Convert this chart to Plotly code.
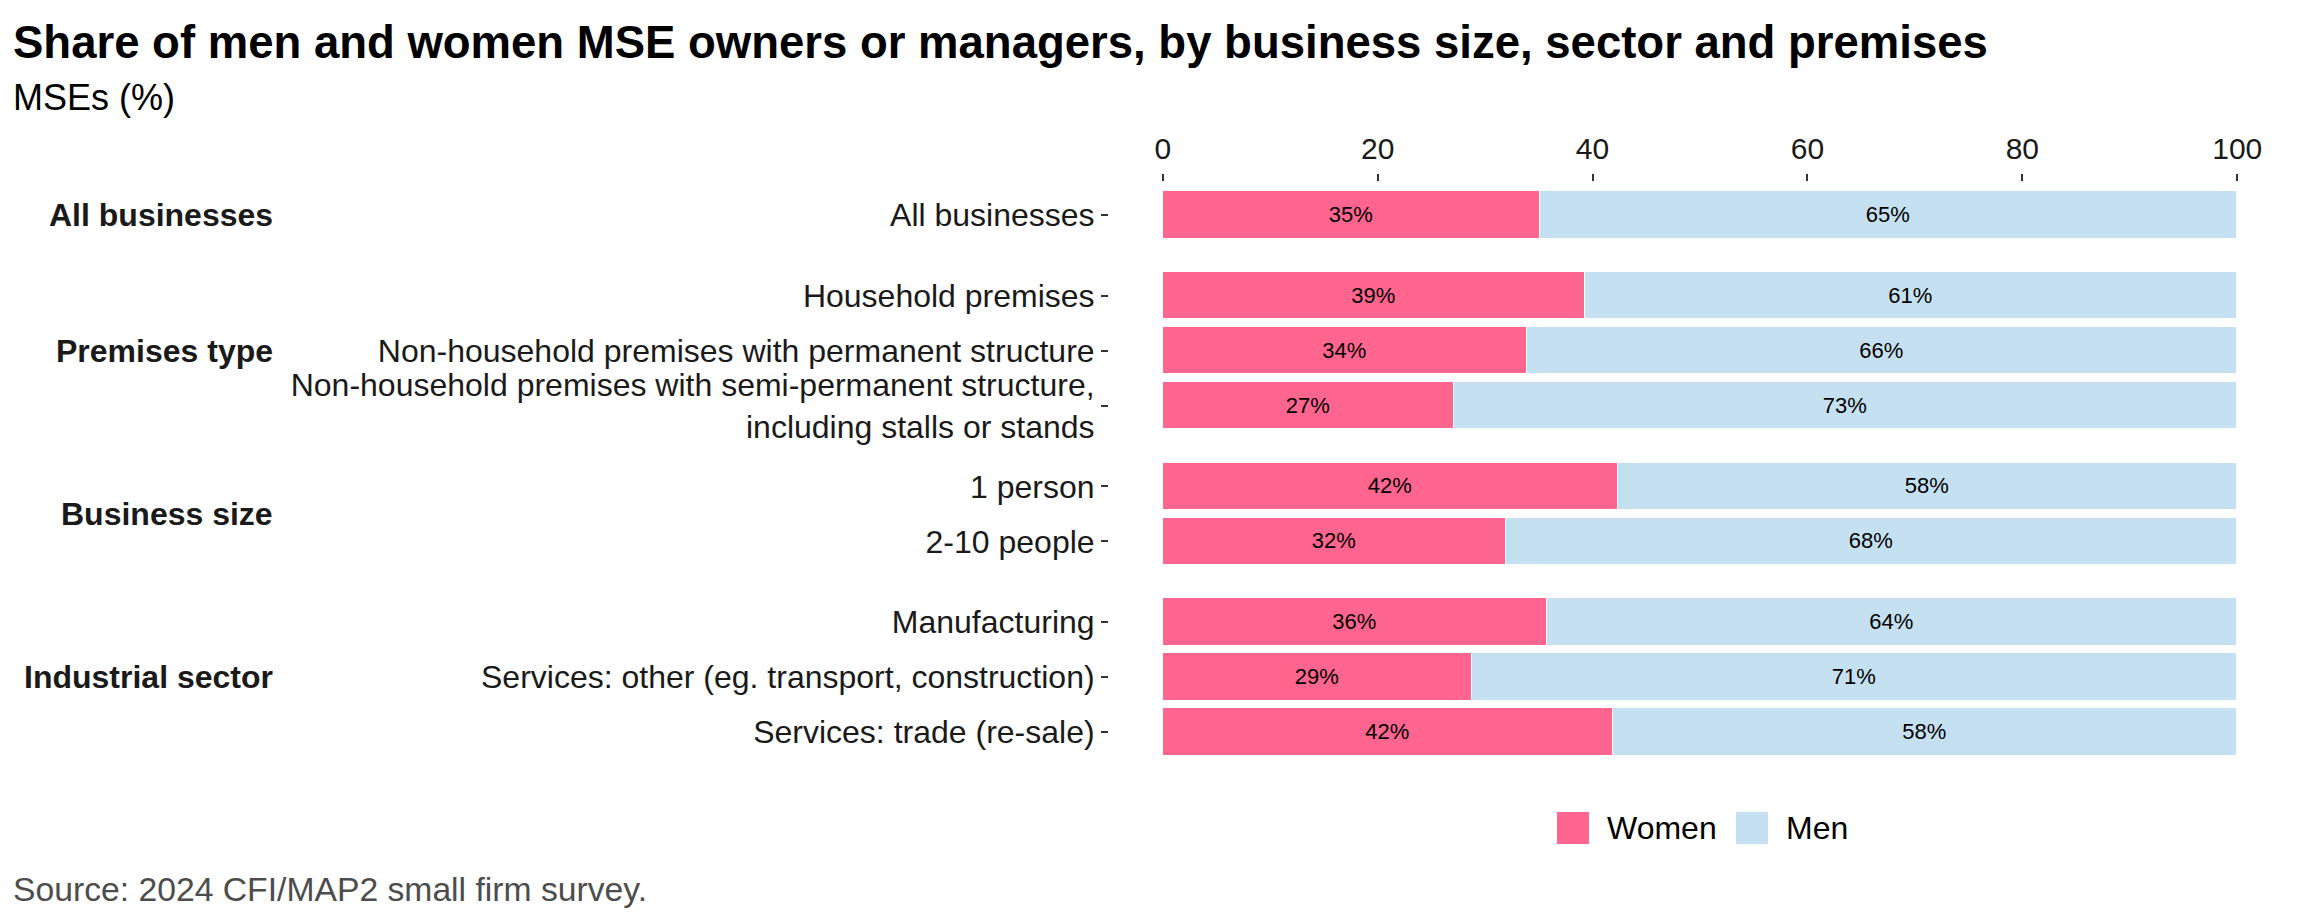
import plotly.graph_objects as go
from plotly.subplots import make_subplots

# ---------------- data ----------------
groups = ["All businesses", "Premises type", "Business size", "Industrial sector"]
categories = [
    "All businesses",
    "Household premises",
    "Non-household premises with permanent structure",
    "Non-household premises with semi-permanent structure,<br>including stalls or stands",
    "1 person",
    "2-10 people",
    "Manufacturing",
    "Services: other (eg. transport, construction)",
    "Services: trade (re-sale)",
]
category_group = [
    "All businesses",
    "Premises type", "Premises type", "Premises type",
    "Business size", "Business size",
    "Industrial sector", "Industrial sector", "Industrial sector",
]
women = [35.1, 39.3, 33.9, 27.1, 42.4, 31.9, 35.8, 28.8, 41.9]
men = [64.9, 60.7, 66.1, 72.9, 57.6, 68.1, 64.2, 71.2, 58.1]
x_ticks = [0, 20, 40, 60, 80, 100]
series_names = ["Women", "Men"]
series_colors = ["#FF658E", "#C5E0F1"]

title = "Share of men and women MSE owners or managers, by business size, sector and premises"
subtitle = "MSEs (%)"
caption = "Source: 2024 CFI/MAP2 small firm survey."

# ---------------- layout geometry ----------------
W, H = 2304, 921
OFF = 8  # page body margin offset compensation
L, T = 1109 - OFF, 182 - OFF
R = W - (2291 - OFF)
B = H - (765 - OFF)
PW, PH = W - L - R, H - T - B
GAP = 15
FONT = "Liberation Sans, Arial, Helvetica, sans-serif"


def px_x(px):
    return (px - OFF - L) / PW


def px_y(py):
    return 1 - (py - OFF - T) / PH


group_cats = [[c for c, g in zip(categories, category_group) if g == grp] for grp in groups]
units = [len(c) + 0.2 for c in group_cats]
unit_px = (PH - GAP * (len(groups) - 1)) / sum(units)

fig = make_subplots(rows=len(groups), cols=1, shared_xaxes=True, vertical_spacing=0.02)

for gi, grp in enumerate(groups):
    idx = [i for i, g in enumerate(category_group) if g == grp]
    cats = [categories[i] for i in idx]
    for name, vals, col in zip(series_names, [women, men], series_colors):
        fig.add_trace(
            go.Bar(
                y=cats,
                x=[vals[i] for i in idx],
                orientation="h",
                name=name,
                marker=dict(color=col, line=dict(color="white", width=1.5)),
                width=0.87,
                texttemplate="%{x:.0f}%",
                textposition="inside",
                insidetextanchor="middle",
                textangle=0,
                textfont=dict(size=22, color="black", family=FONT),
                showlegend=False,
                hoverinfo="x+y+name",
            ),
            row=gi + 1,
            col=1,
        )

# y axes / domains
top_frac = 1.0
for gi, cats in enumerate(group_cats):
    h_frac = units[gi] * unit_px / PH
    d_top = top_frac
    d_bot = top_frac - h_frac
    n = len(cats)
    yname = "yaxis" if gi == 0 else f"yaxis{gi + 1}"
    fig.layout[yname].update(
        domain=[max(0, d_bot), min(1, d_top)],
        type="category",
        categoryorder="array",
        categoryarray=list(reversed(cats)),
        range=[-0.6, n - 0.4],
        showgrid=False,
        zeroline=False,
        showline=False,
        ticks="outside",
        ticklen=7,
        tickwidth=2,
        tickcolor="#333333",
        tickfont=dict(size=32, color="#1a1a1a", family=FONT),
        fixedrange=True,
    )
    # strip label
    fig.add_annotation(
        xref="paper",
        x=px_x(275),
        xanchor="right",
        yref="y domain" if gi == 0 else f"y{gi + 1} domain",
        y=0.5,
        yanchor="middle",
        text=f"<b>{groups[gi]}</b>",
        showarrow=False,
        font=dict(size=32, color="#1a1a1a", family=FONT),
    )
    top_frac = d_bot - GAP / PH

for gi in range(len(groups)):
    xname = "xaxis" if gi == 0 else f"xaxis{gi + 1}"
    fig.layout[xname].update(
        range=[-5, 105],
        showgrid=False,
        zeroline=False,
        showline=False,
        fixedrange=True,
    )
    if gi == 0:
        fig.layout[xname].update(
            side="top",
            tickvals=x_ticks,
            ticktext=[str(v) for v in x_ticks],
            ticks="outside",
            ticklen=7,
            tickwidth=2,
            tickcolor="#333333",
            showticklabels=True,
            ticklabelstandoff=3,
            tickfont=dict(size=30, color="#1a1a1a", family=FONT),
        )
    else:
        fig.layout[xname].update(showticklabels=False, ticks="")

# title, subtitle, caption
fig.add_annotation(xref="paper", yref="paper", x=px_x(11), y=px_y(43), xanchor="left", yanchor="middle",
                   text=f"<b>{title}</b>", showarrow=False, font=dict(size=45.5, color="black", family=FONT))
fig.add_annotation(xref="paper", yref="paper", x=px_x(11), y=px_y(98), xanchor="left", yanchor="middle",
                   text=subtitle, showarrow=False, font=dict(size=36, color="black", family=FONT))
fig.add_annotation(xref="paper", yref="paper", x=px_x(11), y=px_y(889), xanchor="left", yanchor="middle",
                   text=caption, showarrow=False, font=dict(size=33.7, color="#4d4d4d", family=FONT))

# manual legend
leg_items = [(1557, 1605), (1736, 1784)]
for (sx, tx), name, col in zip(leg_items, series_names, series_colors):
    fig.add_shape(type="rect", xref="paper", yref="paper",
                  x0=px_x(sx), x1=px_x(sx + 32), y0=px_y(844), y1=px_y(812),
                  fillcolor=col, line=dict(width=0))
    fig.add_annotation(xref="paper", yref="paper", x=px_x(tx), y=px_y(828), xanchor="left", yanchor="middle",
                       text=name, showarrow=False, font=dict(size=32, color="black", family=FONT))

fig.update_layout(
    width=W,
    height=H,
    margin=dict(l=L, r=R, t=T, b=B, pad=0),
    barmode="stack",
    bargap=0,
    plot_bgcolor="white",
    paper_bgcolor="white",
    font=dict(family=FONT, color="black"),
    showlegend=False,
)

fig.write_html("out.html")
